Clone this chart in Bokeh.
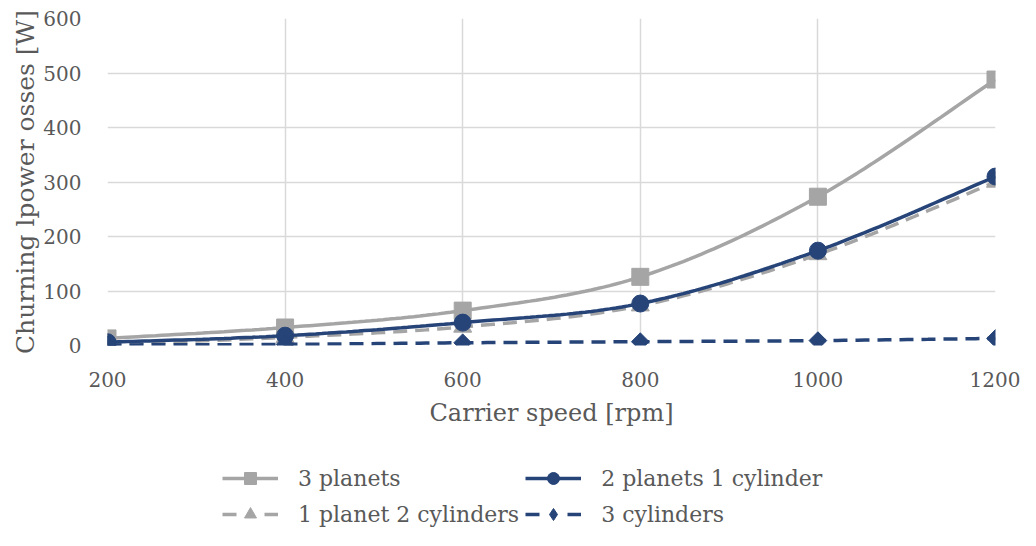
import numpy as np
from bokeh.plotting import figure
from bokeh.layouts import column
from bokeh.models import Legend, LegendItem, FixedTicker
from bokeh.embed import file_html
from bokeh.resources import INLINE

speed = [200, 400, 600, 800, 1000, 1200]
planets3 = [13, 33, 64, 126, 273, 488]
planets2_cyl1 = [6, 18, 42, 77, 174, 310]
planet1_cyl2 = [2, 15, 34, 73, 167, 300]
cylinders3 = [1, 2, 5, 7, 9, 13]

GREY = "#A5A5A5"
NAVY = "#264478"
TXT = "#595959"
FONT = "DejaVu Serif"
W = 1020


def smooth(xs, ys, n=30):
    """Excel-like smoothed line (Catmull-Rom Bezier) through the data points."""
    xs = np.asarray(xs, float)
    ys = np.asarray(ys, float)
    px, py = [], []
    m = len(xs)
    for i in range(m - 1):
        x0, y0 = (xs[i - 1], ys[i - 1]) if i > 0 else (xs[i], ys[i])
        x1, y1 = xs[i], ys[i]
        x2, y2 = xs[i + 1], ys[i + 1]
        x3, y3 = (xs[i + 2], ys[i + 2]) if i + 2 < m else (x2, y2)
        c1x, c1y = x1 + (x2 - x0) / 6, y1 + (y2 - y0) / 6
        c2x, c2y = x2 - (x3 - x1) / 6, y2 - (y3 - y1) / 6
        t = np.linspace(0, 1, n)
        a = (1 - t) ** 3
        b = 3 * (1 - t) ** 2 * t
        c = 3 * (1 - t) * t ** 2
        d = t ** 3
        px.extend(a * x1 + b * c1x + c * c2x + d * x2)
        py.extend(a * y1 + b * c1y + c * c2y + d * y2)
    return px, py


p = figure(width=W, height=430, output_backend="svg", toolbar_location=None,
           x_range=(200, 1200), y_range=(0, 600),
           min_border_left=107, min_border_right=25, min_border_top=18, min_border_bottom=85)
p.outline_line_color = None
p.background_fill_color = "white"
p.border_fill_color = "white"

for ax in (p.xaxis[0], p.yaxis[0]):
    ax.axis_line_color = None
    ax.major_tick_line_color = None
    ax.minor_tick_line_color = None
    ax.major_label_text_font = FONT
    ax.major_label_text_font_size = "20px"
    ax.major_label_text_color = TXT
    ax.axis_label_text_font = FONT
    ax.axis_label_text_color = TXT
    ax.axis_label_text_font_style = "normal"

p.xaxis.axis_label_text_font_size = "24px"
p.yaxis.axis_label_text_font_size = "25px"
p.xaxis.ticker = FixedTicker(ticks=speed)
p.yaxis.ticker = FixedTicker(ticks=[0, 100, 200, 300, 400, 500, 600])
p.xaxis.axis_label = "Carrier speed [rpm]"
p.yaxis.axis_label = "Churning lpower osses [W]"
p.xaxis.major_label_standoff = 20
p.yaxis.major_label_standoff = 20
p.xaxis.axis_label_standoff = 9
p.yaxis.axis_label_standoff = 0
p.xgrid.grid_line_color = "#D9D9D9"
p.ygrid.grid_line_color = "#D9D9D9"
p.xgrid.grid_line_width = 1.5
p.ygrid.grid_line_width = 1.5

# name, values, colour, dash, marker, size, angle, legend marker, legend size
series = [
    ("3 planets", planets3, GREY, "solid", "square", 17, 0.0, "square", 13),
    ("1 planet 2 cylinders", planet1_cyl2, GREY, "14 8", "triangle", 18, 0.0, "triangle", 13),
    ("2 planets 1 cylinder", planets2_cyl1, NAVY, "solid", "circle", 17, 0.0, "circle", 14),
    ("3 cylinders", cylinders3, NAVY, "14 8", "square", 12.5, np.pi / 4, "diamond", 16),
]

# legend panel below the chart (its frame is aligned with the chart frame)
lg = figure(width=W, height=100, output_backend="svg", toolbar_location=None,
            x_range=(0, 1), y_range=(0, 1),
            min_border_left=107, min_border_right=25, min_border_top=0, min_border_bottom=0)
lg.axis.visible = False
lg.grid.visible = False
lg.outline_line_color = None

items = []
for name, ys, col, dash, marker, size, ang, lmarker, lsize in series:
    sx, sy = smooth(speed, ys)
    p.line(sx, sy, line_color=col, line_width=3.5, line_dash=dash)
    p.scatter(speed, ys, marker=marker, size=size, angle=ang,
              fill_color=col, line_color=col)
    # off-screen proxies that only serve the legend
    ln = lg.line([10, 11], [10, 11], line_color=col, line_width=3.5,
                 line_dash="14 28" if dash != "solid" else dash)
    sc = lg.scatter([10, 11], [10, 11], marker=lmarker, size=lsize,
                    fill_color=col, line_color=col)
    items.append(LegendItem(label=name, renderers=[ln, sc]))

legend = Legend(items=items, ncols=2, location=(115, 1),
                label_text_font=FONT, label_text_font_size="22px", label_text_color=TXT,
                glyph_width=56, glyph_height=30, label_height=30, label_standoff=20,
                spacing=6, padding=0, margin=0, border_line_color=None,
                background_fill_alpha=0)
lg.add_layout(legend, "center")

layout = column(p, lg, spacing=0)
open("out.html", "w").write(file_html(layout, INLINE))
